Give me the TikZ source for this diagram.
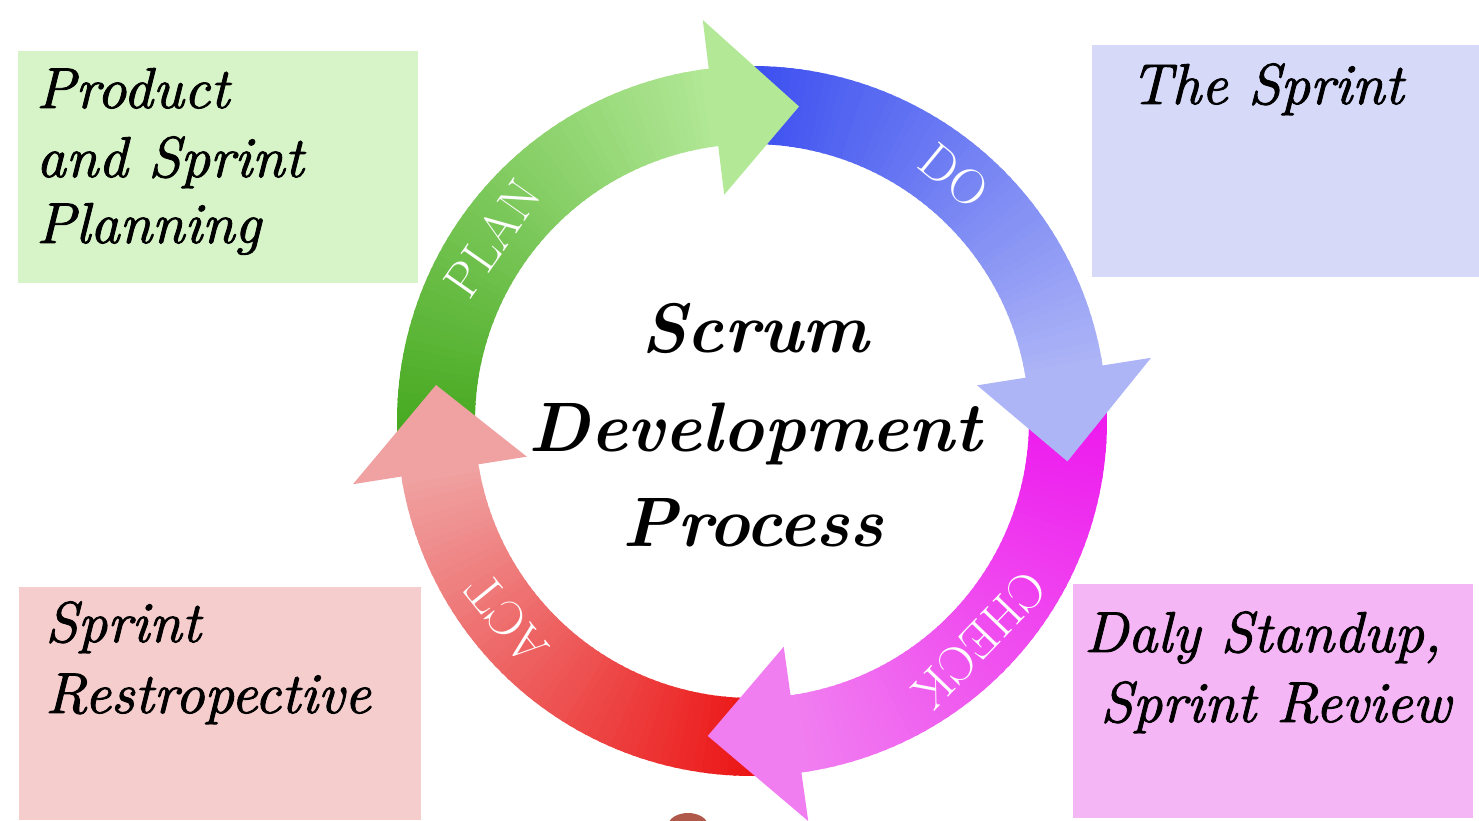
\documentclass[tikz,border=0pt]{standalone}
\usepackage{fontspec}
\newfontfamily\boxfont{lmroman10-italic.otf}[FakeBold=1.5]
\definecolor{gdark}{HTML}{45A81E}
\definecolor{glight}{HTML}{B2E896}
\definecolor{bdark}{HTML}{3A4EF0}
\definecolor{blight}{HTML}{ADB5F6}
\definecolor{mdark}{HTML}{EE18EE}
\definecolor{mlight}{HTML}{F07EF0}
\definecolor{rdark}{HTML}{EC1212}
\definecolor{rlight}{HTML}{F0A2A2}
\definecolor{gbox}{HTML}{D7F4C9}
\definecolor{bbox}{HTML}{D6DAF8}
\definecolor{pbox}{HTML}{F5CDCD}
\definecolor{vbox}{HTML}{F4B6F4}
\definecolor{blob}{HTML}{B0584A}
\newcommand\bandarc[4]{%
  \foreach \i in {1,...,60}{%
    \pgfmathsetmacro\aa{#1+(#2-#1)*(\i-1)/60}%
    \pgfmathsetmacro\ab{#1+(#2-#1)*(\i)/60+0.5*sign(#2-#1)}%
    \pgfmathtruncatemacro\pp{100*(\i-1)/59}%
    \fill[#4!\pp!#3] (\aa:277) arc[start angle=\aa, end angle=\ab, radius=277]
      -- (\ab:355) arc[start angle=\ab, end angle=\aa, radius=355] -- cycle;
  }}
\newcommand\arrowhead[3]{%
  \fill[#3] (#1:228) -- (#2:318) -- (#1:404) -- cycle;}
\tikzset{
  boxtext/.style={anchor=base west, inner sep=0pt, font=\boxfont\fontsize{28.8}{34}\selectfont},
  centertext/.style={anchor=base, inner sep=0pt, font=\fontsize{35}{48}\selectfont\bfseries\itshape},
  arclabel/.style={text=white, inner sep=0pt, font=\fontsize{25}{25}\selectfont}
}
\begin{document}
\begin{tikzpicture}[x=0.5pt,y=0.5pt]
\useasboundingbox (0,0) rectangle (1479,820);
\fill[white] (0,0) rectangle (1479,820);
% boxes
\fill[gbox] (18,537) rectangle (418,769);
\fill[bbox] (1092,543) rectangle (1479,775);
\fill[pbox] (19,0) rectangle (421,233);
\fill[vbox] (1073,2) rectangle (1473,236);
% bottom blob
\fill[blob] (688,-6) ellipse [x radius=20, y radius=13];
% cycle
\begin{scope}[shift={(752,399)}]
  \bandarc{184}{97}{gdark}{glight}
  \bandarc{92}{9}{bdark}{blight}
  \bandarc{4}{-82}{mdark}{mlight}
  \bandarc{-87}{-171}{rdark}{rlight}
  \arrowhead{97}{81.5}{glight}
  \arrowhead{9}{-7.3}{blight}
  \arrowhead{-82}{-98}{mlight}
  \arrowhead{-171}{-186.5}{rlight}
  \node[arclabel, rotate=54.9] (plan) at (144.9:318) {PLAN};
  \node[arclabel, rotate=-39.5] (do) at (50.5:318) {DO};
  \node[arclabel, rotate=-134] (check) at (-44:316) {CHECK};
  \node[arclabel, rotate=129] (act) at (-141:316) {ACT};
\end{scope}
% center title
\node[centertext] (t1) at (755,467) {Scrum};
\node[centertext] (t2) at (755,368) {Development};
\node[centertext] (t3) at (753,273) {Process};
% box texts
\node[boxtext] (p1) at (36,712) {Product};
\node[boxtext] (p2) at (36,643) {and Sprint};
\node[boxtext] (p3) at (36,577) {Planning};
\node[boxtext] (s1) at (1130,716) {The Sprint};
\node[boxtext] (r1) at (45,178) {Sprint};
\node[boxtext] (r2) at (45,107) {Restropective};
\node[boxtext] (d1) at (1084,168) {Daly Standup,};
\node[boxtext] (d2) at (1100,98) {Sprint Review};
\end{tikzpicture}
\end{document}
